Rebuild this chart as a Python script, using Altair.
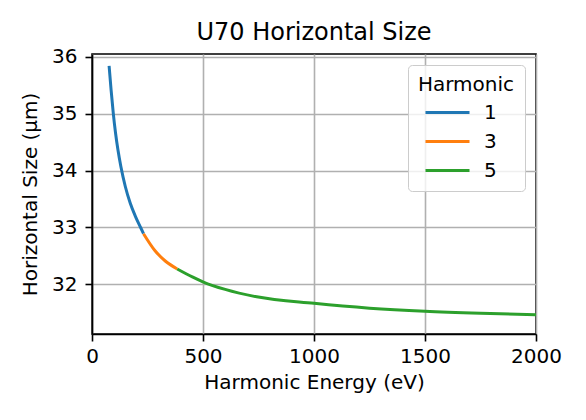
import pandas as pd
import altair as alt

# values
energy_h1 = [77, 86, 96, 106, 117, 130, 150, 172, 195, 220, 232]
size_h1 = [35.84, 35.42, 35.00, 34.66, 34.36, 34.07, 33.72, 33.43, 33.20, 32.99, 32.89]
energy_h3 = [232, 284, 330, 384]
size_h3 = [32.89, 32.59, 32.41, 32.27]
energy_h5 = [384, 452, 502, 600, 742, 1000, 1250, 1500, 1750, 2000]
size_h5 = [32.27, 32.13, 32.04, 31.91, 31.78, 31.665, 31.58, 31.525, 31.49, 31.465]

harmonics = ["1", "3", "5"]
colors = ["#1f77b4", "#ff7f0e", "#2ca02c"]
widths = [3, 3, 4]

df = pd.concat([
    pd.DataFrame({"energy": energy_h1, "size": size_h1, "harmonic": "1"}),
    pd.DataFrame({"energy": energy_h3, "size": size_h3, "harmonic": "3"}),
    pd.DataFrame({"energy": energy_h5, "size": size_h5, "harmonic": "5"}),
], ignore_index=True)

font = "DejaVu Sans"

chart = (
    alt.Chart(df)
    .mark_line(interpolate="monotone", clip=True)
    .encode(
        x=alt.X("energy:Q", title="Harmonic Energy (eV)",
                scale=alt.Scale(domain=[0, 2000], nice=False, zero=False),
                axis=alt.Axis(values=[0, 500, 1000, 1500, 2000], format="d")),
        y=alt.Y("size:Q", title="Horizontal Size (µm)",
                scale=alt.Scale(domain=[31.126, 36.05], nice=False, zero=False),
                axis=alt.Axis(values=[32, 33, 34, 35, 36], format="d")),
        color=alt.Color("harmonic:N", title="Harmonic",
                        scale=alt.Scale(domain=harmonics, range=colors)),
        strokeWidth=alt.StrokeWidth("harmonic:N", title="Harmonic",
                                    scale=alt.Scale(domain=harmonics, range=widths)),
        order="energy:Q",
    )
    .properties(
        width=444, height=280,
        title="U70 Horizontal Size",
        autosize=alt.AutoSizeParams(type="none"),
        padding={"left": 84, "top": 46, "right": 42, "bottom": 70},
    )
    .configure_view(stroke="black", strokeWidth=1.6)
    .configure_axis(
        labelFont=font, labelFontSize=20, labelColor="black",
        titleFont=font, titleFontSize=20, titleColor="black", titleFontWeight="normal",
        domainColor="black", domainWidth=1.6,
        tickColor="black", tickWidth=1.6, tickSize=7,
        gridColor="#b0b0b0", gridWidth=1.6,
    )
    .configure_axisX(titlePadding=6, labelPadding=5, labelFlush=False)
    .configure_axisY(titlePadding=11, labelPadding=8)
    .configure_title(font=font, fontSize=24, fontWeight="normal", color="black",
                     anchor="middle", offset=2)
    .configure_legend(
        orient="none", legendX=316, legendY=11,
        titleFont=font, titleFontSize=20, titleFontWeight="normal", titleColor="black",
        titleAnchor="middle",
        labelFont=font, labelFontSize=20, labelColor="black", labelOffset=24,
        symbolType="M-2,0H2", symbolSize=484,
        rowPadding=6, padding=10,
        fillColor="rgba(255,255,255,0.8)", strokeColor="#cccccc", cornerRadius=4,
    )
)

chart.save("out.html", embed_options={"renderer": "svg", "actions": False})
